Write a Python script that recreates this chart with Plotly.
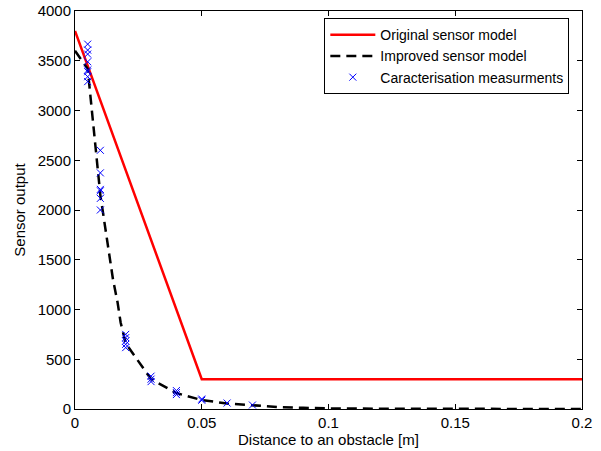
import plotly.graph_objects as go

# Original sensor model
orig_x = [0.0, 0.05, 0.2]
orig_y = [3800, 300, 300]

# Improved sensor model
impr_x = [0.0, 0.005, 0.01, 0.0115, 0.0135, 0.015, 0.0168, 0.018, 0.02,
          0.03, 0.04, 0.05, 0.06, 0.07, 0.08, 0.09, 0.1, 0.12, 0.15, 0.2]
impr_y = [3600, 3420, 2150, 1900, 1570, 1300, 1070, 870, 660,
          300, 160, 90, 55, 35, 20, 12, 6, 3, 1, 0]

# Characterisation measurements
meas_x = [0.005] * 8 + [0.01] * 6 + [0.02] * 5 + [0.03] * 3 + [0.04] * 3 + [0.05] * 2 + [0.06, 0.07]
meas_y = [3667, 3607, 3567, 3490, 3407, 3390, 3340, 3290,
          2600, 2373, 2207, 2193, 2117, 2000,
          750, 717, 683, 650, 617,
          330, 300, 275,
          185, 165, 145,
          100, 88,
          60, 40]

x_ticks = [0, 0.05, 0.1, 0.15, 0.2]
x_tick_text = ["0", "0.05", "0.1", "0.15", "0.2"]
y_ticks = [0, 500, 1000, 1500, 2000, 2500, 3000, 3500, 4000]

FAM = "Liberation Sans, Arial, sans-serif"
tick_font = dict(family=FAM, size=15, color="black")
label_font = dict(family=FAM, size=15, color="black")

fig = go.Figure()
fig.add_trace(go.Scatter(x=orig_x, y=orig_y, mode="lines", name="Original sensor model",
                         line=dict(color="#ff0000", width=2.5)))
fig.add_trace(go.Scatter(x=impr_x, y=impr_y, mode="lines", name="Improved sensor model",
                         line=dict(color="black", width=2.5, dash="10px,6px")))
fig.add_trace(go.Scatter(x=meas_x, y=meas_y, mode="markers", name="Caracterisation measurments",
                         marker=dict(symbol="x-thin", size=7, color="#0000ff",
                                     line=dict(color="#0000ff", width=1))))

axis_common = dict(showgrid=False, zeroline=False, showline=True, linecolor="black",
                   linewidth=1, mirror="allticks", ticks="inside", ticklen=5,
                   tickcolor="black", tickfont=tick_font, automargin=False)

fig.update_layout(
    width=601, height=451,
    margin=dict(l=75, r=19, t=11, b=42),
    paper_bgcolor="white", plot_bgcolor="white",
    font=label_font,
    showlegend=True,
    legend=dict(x=0.975, y=0.982, xanchor="right", yanchor="top",
                bordercolor="black", borderwidth=1, bgcolor="white",
                font=dict(family=FAM, size=14, color="black"),
                tracegroupgap=0, itemwidth=45),
    xaxis=dict(range=[0, 0.2], tickvals=x_ticks, ticktext=x_tick_text,
               title=dict(text="Distance to an obstacle [m]", standoff=4, font=label_font),
               **axis_common),
    yaxis=dict(range=[0, 4000], tickvals=y_ticks,
               title=dict(text="Sensor output", standoff=8, font=label_font),
               **axis_common),
)

fig.write_html("out.html")
